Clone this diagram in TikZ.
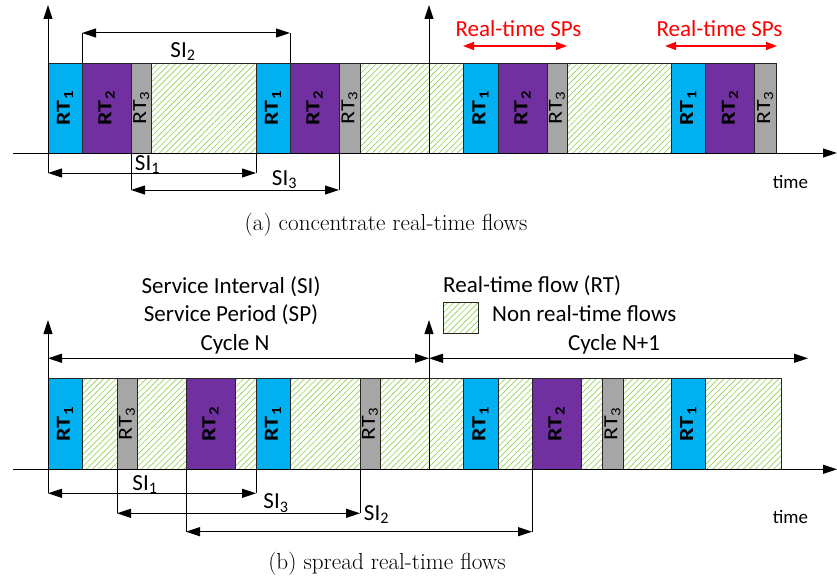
\documentclass[tikz,border=0pt]{standalone}
\usepackage{fontspec}
\newfontfamily\carl{Carlito}
\usetikzlibrary{arrows.meta,patterns.meta}
\definecolor{rtcyan}{HTML}{00B0F0}
\definecolor{rtpurple}{HTML}{7030A0}
\definecolor{rtgray}{HTML}{A6A6A6}
\definecolor{hatchgreen}{HTML}{92D050}
\definecolor{outl}{HTML}{262626}
\definecolor{spred}{HTML}{FF0000}
\newcommand{\RTb}[1]{\textbf{RT\kern1pt\textsubscript{#1}}}
\newcommand{\RTn}[1]{RT\textsubscript{#1}}
\newcommand{\SIl}[1]{SI\textsubscript{#1}}
\begin{document}
\begin{tikzpicture}[x=1pt,y=-1pt,
  blk/.style={draw=outl,line width=0.9pt,inner sep=0pt,outer sep=0pt,anchor=north west},
  rta/.style={blk,fill=rtcyan},
  rtb/.style={blk,fill=rtpurple},
  rtc/.style={blk,fill=rtgray},
  nrt/.style={blk,pattern={Lines[angle=45,distance=4.3pt,line width=0.65pt]},pattern color=hatchgreen},
  rtlab/.style={rotate=90,xscale=1.2,font=\carl\fontsize{20}{23}\selectfont,inner sep=0pt},
  lbl/.style={font=\carl\fontsize{23}{27}\selectfont,inner sep=0pt,anchor=base},
  timelbl/.style={font=\carl\fontsize{19}{22}\selectfont,inner sep=0pt,anchor=base},
  redlbl/.style={lbl,text=spred},
  taxis/.style={line width=1pt,-{Triangle[length=14pt,width=9pt]}},
  dimarrow/.style={line width=1pt,{Triangle[length=14pt,width=9pt]}-{Triangle[length=14pt,width=9pt]}},
  dimtick/.style={line width=1pt},
  redarr/.style={line width=1.3pt,spred,{Triangle[length=11pt,width=8pt]}-{Triangle[length=11pt,width=8pt]}},
  captext/.style={font=\fontsize{23.2}{27}\selectfont,inner sep=0pt,anchor=base}
]
\useasboundingbox (0,0) rectangle (837,586);

% ---------------- (a) ----------------
\foreach \xa/\xb/\st/\lab [count=\i] in {
  48/82/rta/{\RTb1}, 82/131/rtb/{\RTb2}, 131/151.5/rtc/{\RTn3}, 151.5/256/nrt/{},
  256/290/rta/{\RTb1}, 290/339/rtb/{\RTb2}, 339/360/rtc/{\RTn3}, 360/463/nrt/{},
  463/498/rta/{\RTb1}, 498/547/rtb/{\RTb2}, 547/567/rtc/{\RTn3}, 567/671/nrt/{},
  671/705.5/rta/{\RTb1}, 705.5/754.5/rtb/{\RTb2}, 754.5/776/rtc/{\RTn3}} {
  \node[\st,minimum width={(\xb-\xa)*1pt},minimum height=90pt] (a\i) at (\xa,63) {};
  \node[rtlab] (at\i) at (a\i.center) {\lab};
}

\coordinate (tx0) at (13,153);
\coordinate (tx1) at (837,153);
\coordinate (ty0) at (48,173);
\coordinate (ty1) at (48,5);
\coordinate (tz0) at (429,153);
\coordinate (tz1) at (429,5);
\draw[taxis] (tx0) -- (tx1);
\draw[taxis] (ty0) -- (ty1);
\draw[taxis] (tz0) -- (tz1);

% SI2
\draw[dimtick] (a2.north west) -- ++(0,-30) coordinate (s2a);
\draw[dimtick] (a5.north east) -- ++(0,-30) coordinate (s2b);
\draw[dimarrow] (s2a) -- (s2b);
\node[lbl] (lsi2) at (183,57) {\SIl2};
% SI1
\coordinate (s1a) at (48,173);
\draw[dimtick] (a4.south east) -- ++(0,20) coordinate (s1b);
\draw[dimarrow] (s1a) -- (s1b);
\node[lbl] (lsi1) at (147.5,170) {\SIl1};
% SI3
\draw[dimtick] (a3.south west) -- ++(0,37) coordinate (s3a);
\draw[dimtick] (a6.south east) -- ++(0,37) coordinate (s3b);
\draw[dimarrow] (s3a) -- (s3b);
\node[lbl] (lsi3) at (284.5,185) {\SIl3};

% Real-time SPs
\node[redlbl] (rsp1) at (518.5,36.7) {Real-time SPs};
\node[redlbl] (rsp2) at (719.5,36.7) {Real-time SPs};
\coordinate (r1a) at (463,46);
\coordinate (r1b) at (567,46);
\coordinate (r2a) at (665,46);
\coordinate (r2b) at (777,46);
\draw[redarr] (r1a) -- (r1b);
\draw[redarr] (r2a) -- (r2b);

\node[timelbl] (ttime) at (790.5,188.3) {time};
\node[captext] (capa) at (386,230.5) {(a)~concentrate real-time flows};

% ---------------- (b) ----------------
\foreach \xa/\xb/\st/\lab [count=\i] in {
  48/82/rta/{\RTb1}, 82/117/nrt/{}, 117/137/rtc/{\RTn3}, 137/186/nrt/{},
  186/235/rtb/{\RTb2}, 235/256/nrt/{}, 256/290/rta/{\RTb1}, 290/360/nrt/{},
  360/380/rtc/{\RTn3}, 380/463/nrt/{}, 463/498/rta/{\RTb1}, 498/532/nrt/{},
  532/581/rtb/{\RTb2}, 581/602/nrt/{}, 602/623/rtc/{\RTn3}, 623/671/nrt/{},
  671/705.5/rta/{\RTb1}, 705.5/781/nrt/{}} {
  \node[\st,minimum width={(\xb-\xa)*1pt},minimum height=91pt] (b\i) at (\xa,378.3) {};
  \node[rtlab] (bt\i) at (b\i.center) {\lab};
}

\coordinate (bx0) at (13,469.3);
\coordinate (bx1) at (837,469.3);
\coordinate (by0) at (48,493.3);
\coordinate (by1) at (48,320);
\coordinate (bz0) at (429,469.3);
\coordinate (bz1) at (429,320);
\draw[taxis] (bx0) -- (bx1);
\draw[taxis] (by0) -- (by1);
\draw[taxis] (bz0) -- (bz1);

% cycles
\coordinate (c1a) at (48,358.3);
\coordinate (c1b) at (429,358.3);
\coordinate (c2b) at (808,358.3);
\draw[dimarrow] (c1a) -- (c1b);
\draw[dimarrow] (c1b) -- (c2b);
\node[lbl] (lcn) at (235,350.7) {Cycle N};
\node[lbl] (lcn1) at (614,350.7) {Cycle N+1};

% SI1
\coordinate (u1a) at (48,493.3);
\draw[dimtick] (b6.south east) -- ++(0,24) coordinate (u1b);
\draw[dimarrow] (u1a) -- (u1b);
\node[lbl] (lbsi1) at (145,490) {\SIl1};
% SI3
\draw[dimtick] (b3.south west) -- ++(0,44) coordinate (u3a);
\draw[dimtick] (b9.south west) -- ++(0,44) coordinate (u3b);
\draw[dimarrow] (u3a) -- (u3b);
\node[lbl] (lbsi3) at (276,508.3) {\SIl3};
% SI2
\draw[dimtick] (b5.south west) -- ++(0,62.4) coordinate (u2a);
\draw[dimtick] (b13.south west) -- ++(0,62.4) coordinate (u2b);
\draw[dimarrow] (u2a) -- (u2b);
\node[lbl] (lbsi2) at (376.5,520) {\SIl2};

% legend
\node[lbl] (lsi) at (231,293) {Service Interval (SI)};
\node[lbl] (lsp) at (231,321) {Service Period (SP)};
\node[lbl,anchor=base west] (lrt) at (443,292) {Real-time flow (RT)};
\node[nrt,minimum width=35pt,minimum height=31pt] (leg) at (443,302) {};
\node[lbl,anchor=base west] (lnrt) at (492,321) {Non real-time flows};

\node[timelbl] (btime) at (790.5,523) {time};
\node[captext] (capb) at (387,569) {(b)~spread real-time flows};
\end{tikzpicture}
\end{document}
